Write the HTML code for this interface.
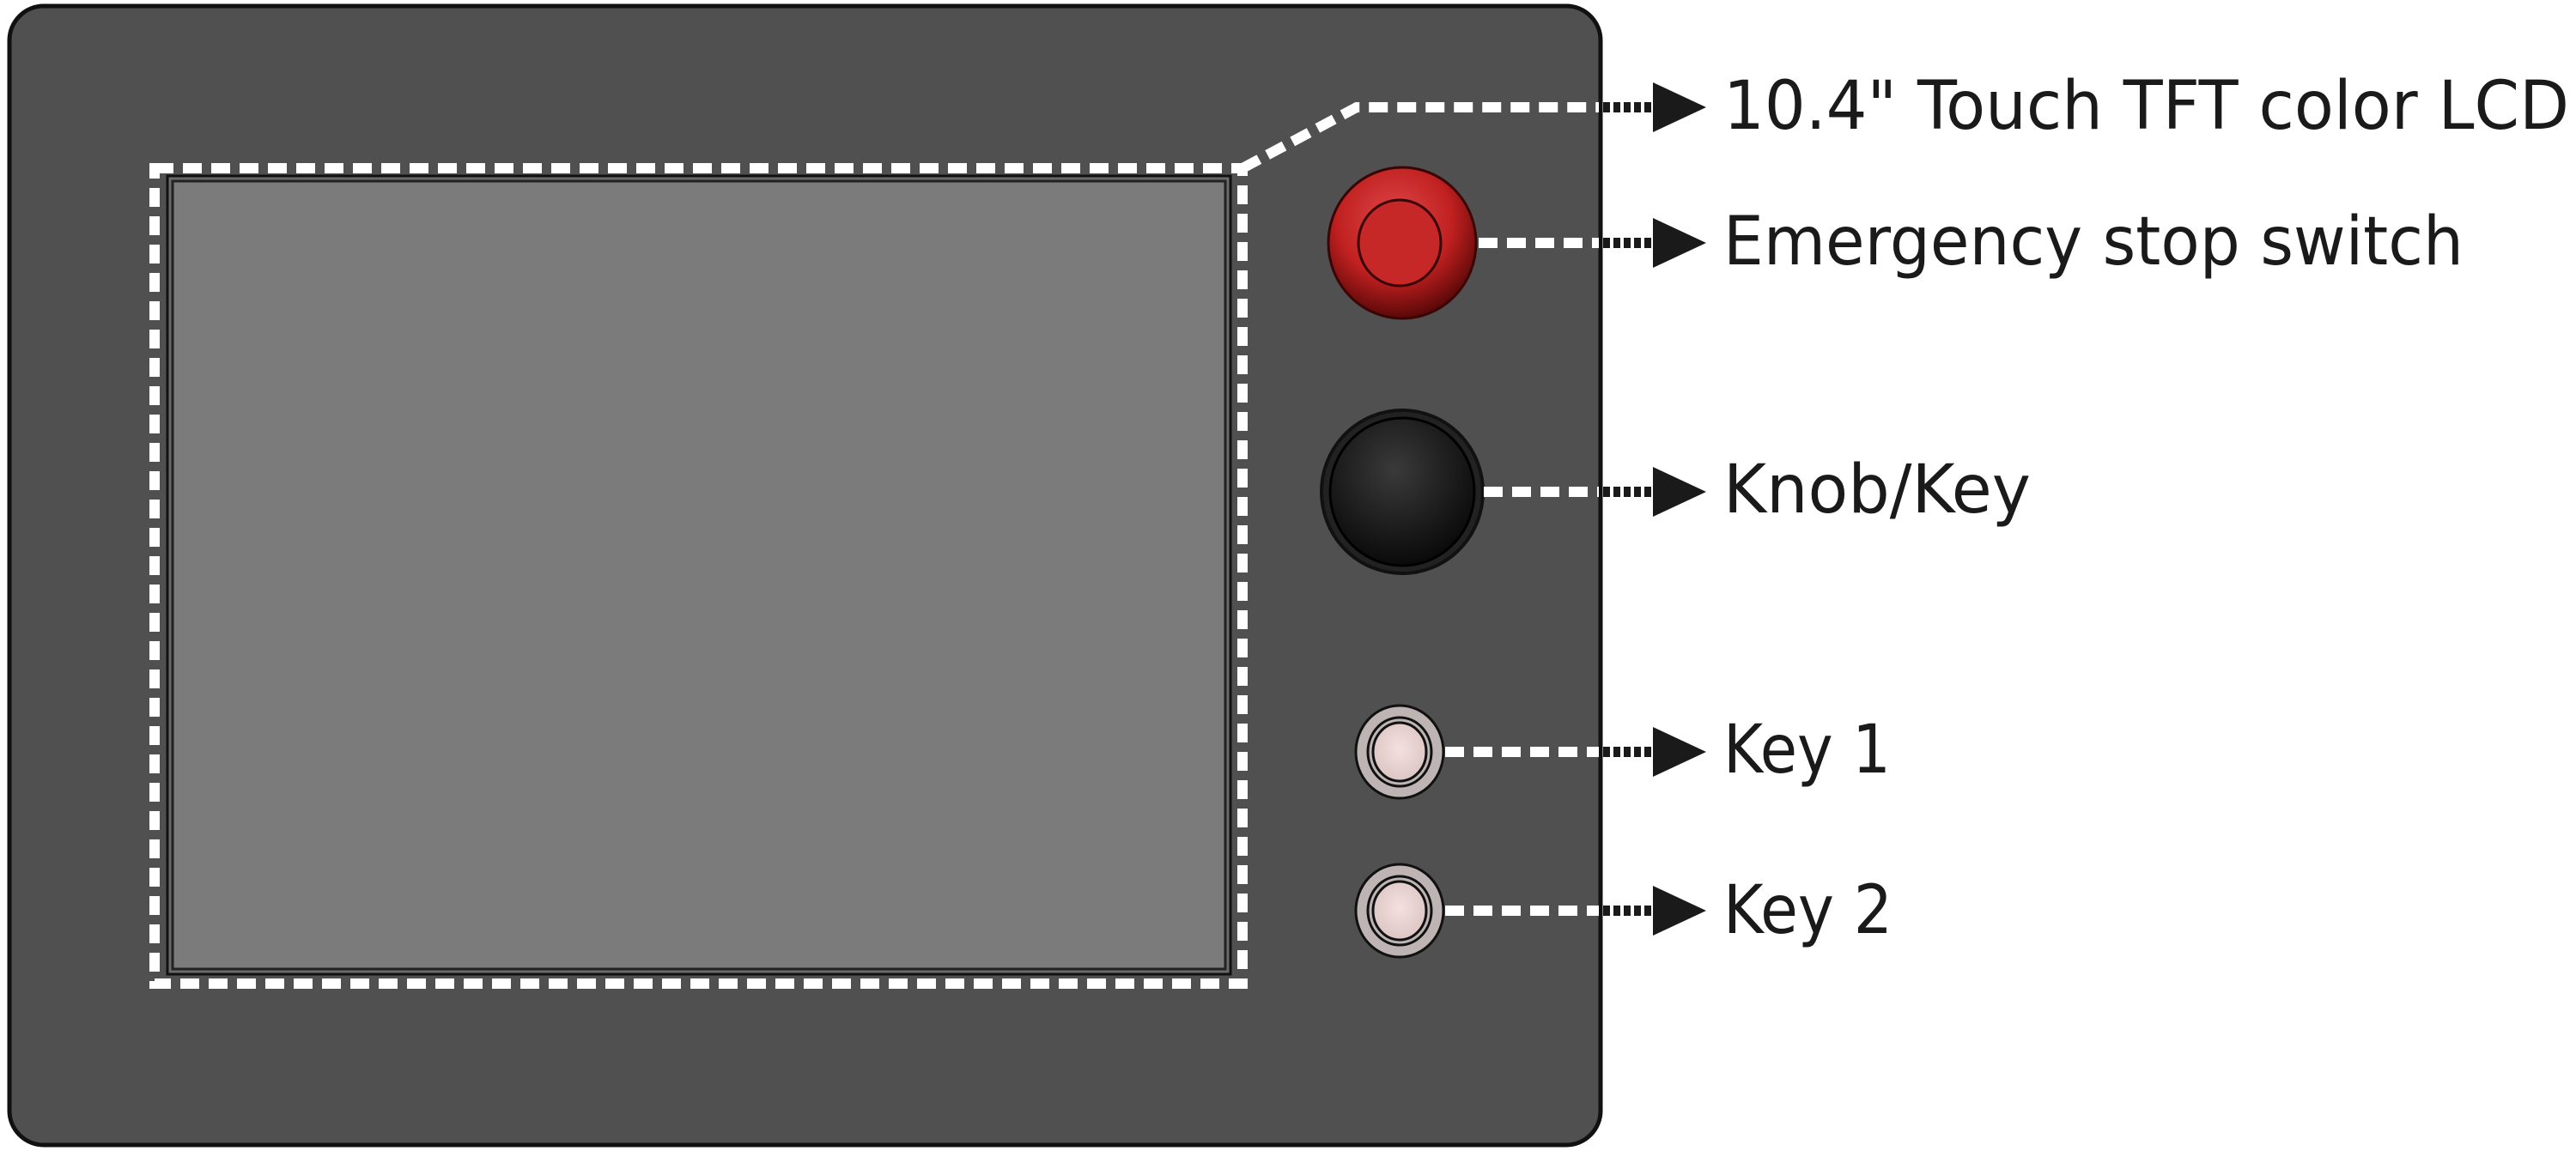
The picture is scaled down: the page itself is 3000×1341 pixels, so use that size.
<!DOCTYPE html>
<html><head><meta charset="utf-8"><style>
html,body{margin:0;padding:0;background:#fff;}
svg{display:block;}
text{font-family:"DejaVu Sans","Liberation Sans",sans-serif;fill:#1a1a1a;}
</style></head><body>
<svg width="3000" height="1341" viewBox="0 0 3000 1341" xmlns="http://www.w3.org/2000/svg">
<defs>
<radialGradient id="red" cx="45%" cy="35%" r="65%">
<stop offset="0" stop-color="#e04848"/><stop offset="0.6" stop-color="#c02020"/><stop offset="1" stop-color="#5a0808"/>
</radialGradient>
<radialGradient id="knob" cx="45%" cy="35%" r="65%">
<stop offset="0" stop-color="#3a3a3a"/><stop offset="1" stop-color="#0a0a0a"/>
</radialGradient>
<radialGradient id="key" cx="50%" cy="45%" r="60%">
<stop offset="0" stop-color="#f4e0de"/><stop offset="1" stop-color="#d9c4c2"/>
</radialGradient>
</defs>
<!-- panel -->
<rect x="11" y="7" width="1853" height="1327" rx="40" ry="40" fill="#505050" stroke="#111" stroke-width="5"/>
<!-- LCD -->
<rect x="195" y="205" width="1238" height="930" fill="#6a6a6a" stroke="#111" stroke-width="3"/>
<rect x="201" y="211" width="1226" height="918" fill="#7b7b7b" stroke="#222" stroke-width="3"/>
<!-- dashed frame -->
<rect x="180" y="196" width="1267" height="950" fill="none" stroke="#fff" stroke-width="12" stroke-dasharray="22 11"/>
<!-- LCD leader -->
<polyline points="1447,196 1580,125 1862,125" fill="none" stroke="#fff" stroke-width="12" stroke-dasharray="22 11"/>
<!-- red button -->
<ellipse cx="1633" cy="283" rx="86" ry="88" fill="url(#red)" stroke="#3a0505" stroke-width="3"/>
<ellipse cx="1630" cy="283" rx="48" ry="50" fill="#c62828" stroke="#3a0505" stroke-width="3"/>
<!-- knob -->
<ellipse cx="1633" cy="573" rx="94" ry="95" fill="#222" stroke="#111" stroke-width="4"/>
<ellipse cx="1633" cy="573" rx="84" ry="86" fill="url(#knob)" stroke="#000" stroke-width="3"/>
<!-- keys -->
<g>
<ellipse cx="1630" cy="876" rx="51" ry="54" fill="#bdb4b3" stroke="#111" stroke-width="3"/>
<ellipse cx="1630" cy="876" rx="37" ry="40" fill="none" stroke="#111" stroke-width="3"/>
<ellipse cx="1630" cy="876" rx="31" ry="34" fill="url(#key)" stroke="#111" stroke-width="3"/>
<ellipse cx="1630" cy="1061" rx="51" ry="54" fill="#bdb4b3" stroke="#111" stroke-width="3"/>
<ellipse cx="1630" cy="1061" rx="37" ry="40" fill="none" stroke="#111" stroke-width="3"/>
<ellipse cx="1630" cy="1061" rx="31" ry="34" fill="url(#key)" stroke="#111" stroke-width="3"/>
</g>
<!-- leader lines -->
<g stroke-width="12" fill="none">
<line x1="1722" y1="283" x2="1862" y2="283" stroke="#fff" stroke-dasharray="22 11"/>
<line x1="1728" y1="573" x2="1862" y2="573" stroke="#fff" stroke-dasharray="22 11"/>
<line x1="1683" y1="876" x2="1862" y2="876" stroke="#fff" stroke-dasharray="22 11"/>
<line x1="1683" y1="1061" x2="1862" y2="1061" stroke="#fff" stroke-dasharray="22 11"/>
<line x1="1867" y1="125" x2="1928" y2="125" stroke="#1a1a1a" stroke-dasharray="8 4"/>
<line x1="1867" y1="283" x2="1928" y2="283" stroke="#1a1a1a" stroke-dasharray="8 4"/>
<line x1="1867" y1="573" x2="1928" y2="573" stroke="#1a1a1a" stroke-dasharray="8 4"/>
<line x1="1867" y1="876" x2="1928" y2="876" stroke="#1a1a1a" stroke-dasharray="8 4"/>
<line x1="1867" y1="1061" x2="1928" y2="1061" stroke="#1a1a1a" stroke-dasharray="8 4"/>
</g>
<g fill="#1a1a1a">
<polygon points="1925,96 1987,125 1925,154"/>
<polygon points="1925,254 1987,283 1925,312"/>
<polygon points="1925,544 1987,573 1925,602"/>
<polygon points="1925,847 1987,876 1925,905"/>
<polygon points="1925,1032 1987,1061 1925,1090"/>
</g>
<!-- labels -->
<text x="2007" y="150" font-size="78" textLength="985" lengthAdjust="spacingAndGlyphs">10.4" Touch TFT color LCD</text>
<text x="2007" y="308" font-size="78" textLength="862" lengthAdjust="spacingAndGlyphs">Emergency stop switch</text>
<text x="2007" y="597" font-size="78" textLength="358" lengthAdjust="spacingAndGlyphs">Knob/Key</text>
<text x="2007" y="900" font-size="78" textLength="195" lengthAdjust="spacingAndGlyphs">Key 1</text>
<text x="2007" y="1087" font-size="78" textLength="197" lengthAdjust="spacingAndGlyphs">Key 2</text>
</svg>
</body></html>
